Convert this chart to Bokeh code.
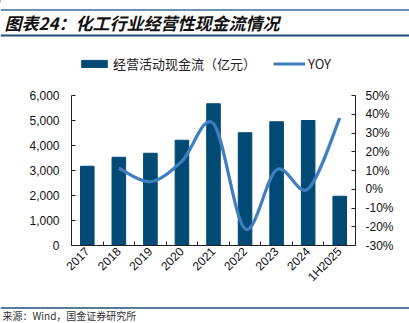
import numpy as np
from bokeh.plotting import figure
from bokeh.layouts import column
from bokeh.models import (Range1d, LinearAxis, FixedTicker, NumeralTickFormatter,
                          Legend, LegendItem, ColumnDataSource)
from bokeh.core.properties import value
from bokeh.embed import file_html
from bokeh.resources import INLINE

# ---- data ----
categories = ["2017", "2018", "2019", "2020", "2021", "2022", "2023", "2024", "1H2025"]
cash_flow = [3170, 3530, 3690, 4210, 5670, 4510, 4950, 5000, 1970]   # 亿元
yoy_categories = ["2018", "2019", "2020", "2021", "2022", "2023", "2024", "1H2025"]
yoy = [0.112, 0.040, 0.150, 0.350, -0.211, 0.104, 0.002, 0.379]
left_ticks = [0, 1000, 2000, 3000, 4000, 5000, 6000]
right_ticks = [-0.3, -0.2, -0.1, 0.0, 0.1, 0.2, 0.3, 0.4, 0.5]

title_text = "图表24：化工行业经营性现金流情况"
source_text = "来源：Wind，国金证券研究所"
bar_label = "经营活动现金流（亿元）"
line_label = "YOY"

BAR_COLOR = "#004a75"
LINE_COLOR = "#3f7fc0"
RULE_COLOR = "#1f4e79"
CJK = "Noto Sans CJK SC"
LATIN = "Liberation Sans"
W = 409
HDR_H = 80
FTR_H = 18
MAIN_H = 323 - HDR_H - FTR_H


def blank(h):
    f = figure(width=W, height=h, x_range=Range1d(0, W), y_range=Range1d(h, 0),
               output_backend="svg", toolbar_location=None, min_border=0,
               x_axis_location=None, y_axis_location=None, frame_align=False)
    f.grid.visible = False
    f.outline_line_color = None
    return f


# ---- header: title, rules, legend ----
hdr = blank(HDR_H)
hdr.line([0, W], [9.5, 9.5], line_color="#3a6d9a", line_width=1.5)
hdr.line([0, W], [35, 35], line_color=RULE_COLOR, line_width=2)
hdr.text(x=[4], y=[22], text=[title_text], text_font=value(CJK), text_font_size="17px",
         text_font_style="bold italic", text_baseline="middle", text_color="#111111")
# legend proxies (off-canvas, only used for the legend swatches)
bar_proxy = hdr.vbar(x=[-100], top=[1], width=1, color=BAR_COLOR)
line_proxy = hdr.line(x=[-100, -90], y=[1, 1], line_color=LINE_COLOR, line_width=3.2)
legend = Legend(items=[LegendItem(label=bar_label, renderers=[bar_proxy]),
                       LegendItem(label=line_label, renderers=[line_proxy])],
                location=(78, 7), orientation="horizontal",
                glyph_width=32, glyph_height=9, label_standoff=3, spacing=17,
                padding=0, margin=0, border_line_alpha=0, background_fill_alpha=0,
                label_text_font=CJK, label_text_font_size="13px", label_text_color="#222222")
hdr.add_layout(legend, "center")

# ---- main chart ----
xs = np.arange(len(categories), dtype=float)
p = figure(width=W, height=MAIN_H, x_range=Range1d(-0.5, len(categories) - 0.5),
           y_range=Range1d(0, 6000), output_backend="svg", toolbar_location=None,
           min_border_left=71, min_border_right=54, min_border_top=95 - HDR_H,
           min_border_bottom=MAIN_H - (245 - HDR_H), frame_align=False)
p.extra_y_ranges = {"yoy": Range1d(-0.3, 0.5)}
p.grid.visible = False
p.outline_line_color = None

p.vbar(x=xs, top=cash_flow, width=0.43, color=BAR_COLOR)

# smooth YOY curve (Catmull-Rom -> cubic Bezier through the data points)
yx = np.array([categories.index(c) for c in yoy_categories], dtype=float)
yy = np.array(yoy, dtype=float)
n = len(yx)
px = np.concatenate([[yx[0]], yx, [yx[-1]]])
py = np.concatenate([[yy[0]], yy, [yy[-1]]])
x0, y0 = px[1:n], py[1:n]
x1, y1 = px[2:n + 1], py[2:n + 1]
cx0 = x0 + (px[2:n + 1] - px[0:n - 1]) / 6.0
cy0 = y0 + (py[2:n + 1] - py[0:n - 1]) / 6.0
cx1 = x1 - (px[3:n + 2] - px[1:n]) / 6.0
cy1 = y1 - (py[3:n + 2] - py[1:n]) / 6.0
src = ColumnDataSource(dict(x0=x0, y0=y0, x1=x1, y1=y1, cx0=cx0, cy0=cy0, cx1=cx1, cy1=cy1))
p.bezier(x0="x0", y0="y0", x1="x1", y1="y1", cx0="cx0", cy0="cy0", cx1="cx1", cy1="cy1",
         source=src, y_range_name="yoy", line_color=LINE_COLOR, line_width=3.2)

# axes
p.xaxis.ticker = FixedTicker(ticks=list(xs), minor_ticks=list(np.arange(-0.5, len(categories), 1.0)))
overrides = {float(i): c for i, c in enumerate(categories)}
overrides.update({int(i): c for i, c in enumerate(categories)})
p.xaxis.major_label_overrides = overrides
p.xaxis.major_label_orientation = np.pi / 4
p.xaxis.major_tick_in = 0
p.xaxis.major_tick_out = 0
p.xaxis.minor_tick_in = 4
p.xaxis.minor_tick_out = 0
p.xaxis.major_label_standoff = 4

p.yaxis.ticker = FixedTicker(ticks=left_ticks)
p.yaxis.formatter = NumeralTickFormatter(format="0,0")
p.yaxis.major_label_standoff = 12

ry = LinearAxis(y_range_name="yoy", ticker=FixedTicker(ticks=right_ticks),
                formatter=NumeralTickFormatter(format="0%"))
p.add_layout(ry, "right")
ry.major_label_standoff = 10

for ax in [p.xaxis[0], p.yaxis[0], ry]:
    ax.axis_line_color = "#222222"
    ax.axis_line_width = 1
    ax.major_tick_line_color = "#222222"
    ax.minor_tick_line_color = "#222222"
    ax.major_label_text_font = LATIN
    ax.major_label_text_font_size = "12px"
    ax.major_label_text_color = "#111111"
for ax in [p.yaxis[0], ry]:
    ax.major_tick_in = 4
    ax.major_tick_out = 0
    ax.minor_tick_in = 0
    ax.minor_tick_out = 0

# ---- footer ----
ftr = blank(FTR_H)
ftr.line([0, W], [2.5, 2.5], line_color=RULE_COLOR, line_width=1.5)
ftr.text(x=[2], y=[17], text=[source_text], text_font=value(CJK), text_font_size="10px",
         text_baseline="bottom", text_color="#333333")

layout = column(hdr, p, ftr, spacing=0)
open("out.html", "w").write(file_html(layout, INLINE))
